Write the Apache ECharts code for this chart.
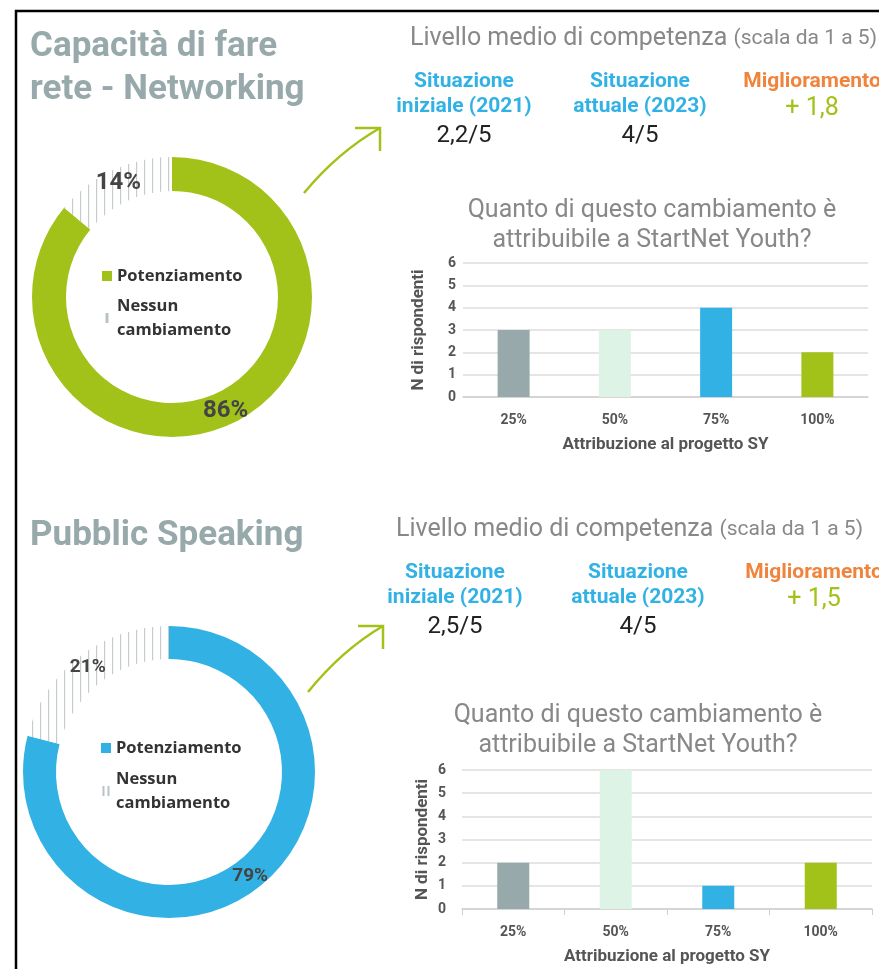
<!DOCTYPE html>
<html>
<head>
<meta charset="utf-8">
<script src="https://cdn.jsdelivr.net/npm/echarts@6/dist/echarts.min.js"></script>
<style>
html,body{margin:0;padding:0;background:#fff;}
#chart{width:879px;height:969px;}
</style>
</head>
<body>
<div id="chart"></div>
<script>
// ---- data ----
const shareNames = ['Potenziamento', 'Nessun cambiamento'];
const networkingShare = [86, 14];
const speakingShare = [79, 21];
const attribCategories = ['25%', '50%', '75%', '100%'];
const networkingAttrib = [3, 3, 4, 2];
const speakingAttrib = [2, 6, 1, 2];
const yTicks = [0, 1, 2, 3, 4, 5, 6];
const networkingLevels = ['2,2/5', '4/5', '+ 1,8'];
const speakingLevels = ['2,5/5', '4/5', '+ 1,5'];
const sectionTitles = [['Capacità di fare', 'rete - Networking'], ['Pubblic Speaking']];

// ---- styles ----
const FONT = 'Roboto';
const barColors = ['#97a9ab', '#dcf3e6', '#32b2e4', '#a2c21a'];
const green = '#a2c21a', blue = '#32b2e4', orange = '#f0843c';
const titleGray = '#97a9ab', textGray = '#888888';

function hatch() {
  const c = document.createElement('canvas');
  c.width = 8; c.height = 8;
  const g = c.getContext('2d');
  g.fillStyle = '#ffffff'; g.fillRect(0, 0, 8, 8);
  g.fillStyle = '#c6cccd'; g.fillRect(0, 0, 1.2, 8);
  return c;
}
const hatchPattern = { image: hatch(), repeat: 'repeat' };

function pieSeries(values, center, radius, mainColor, labelSize) {
  return {
    type: 'pie', center: center, radius: radius, startAngle: 90, clockwise: true,
    silent: true, avoidLabelOverlap: false,
    label: { show: true, position: 'inside', formatter: '{d}%', fontFamily: FONT,
      fontWeight: 'bold', fontSize: labelSize, color: '#444' },
    labelLine: { show: false },
    data: values.map((v, i) => ({
      name: shareNames[i], value: v,
      itemStyle: i === 0 ? { color: mainColor } : { color: hatchPattern }
    }))
  };
}

function legend(left, top, mainColor, iconPath, gap) {
  return {
    orient: 'vertical', left: left, top: top, itemWidth: 10, itemHeight: 10, itemGap: gap,
    selectedMode: false,
    formatter: n => n.replace(' ', '\n'),
    textStyle: { fontFamily: 'Open Sans', fontWeight: 'bold', fontSize: 16.5, color: '#333', lineHeight: 24 },
    data: [
      { name: shareNames[0], icon: 'rect', itemStyle: { color: mainColor } },
      { name: shareNames[1], icon: iconPath, itemStyle: { color: '#b7c3c5' } }
    ]
  };
}

function barAxes(gridIndex, showTicks, yLabelMargin, yNameGap) {
  return {
    x: {
      type: 'category', gridIndex: gridIndex, data: attribCategories,
      axisLine: { lineStyle: { color: '#cfcfcf', width: 1.5 } },
      axisTick: { show: showTicks, length: 6, lineStyle: { color: '#cfcfcf' } },
      axisLabel: { fontFamily: FONT, fontWeight: 'bold', fontSize: 14, color: '#555', margin: 16 },
      name: 'Attribuzione al progetto SY', nameLocation: 'middle', nameGap: 39,
      nameTextStyle: { fontFamily: FONT, fontWeight: 'bold', fontSize: 17, color: '#555' }
    },
    y: {
      type: 'value', gridIndex: gridIndex, min: yTicks[0], max: yTicks[yTicks.length - 1], interval: 1,
      axisLine: { show: false }, axisTick: { show: false },
      splitLine: { lineStyle: { color: '#dddddd', width: 1.5 } },
      axisLabel: { fontFamily: FONT, fontWeight: 'bold', fontSize: 14, color: '#555', margin: yLabelMargin },
      name: 'N di rispondenti', nameLocation: 'middle', nameRotate: 90, nameGap: yNameGap,
      nameTextStyle: { fontFamily: FONT, fontWeight: 'bold', fontSize: 17, color: '#555' }
    }
  };
}

function barSeries(values, idx) {
  return {
    type: 'bar', xAxisIndex: idx, yAxisIndex: idx, barWidth: 32, silent: true,
    data: values.map((v, i) => ({ value: v, itemStyle: { color: barColors[i] } }))
  };
}

function txt(x, y, text, size, color, weight, align) {
  return {
    type: 'text', x: x, y: y,
    style: { text: text, fontFamily: FONT, fontSize: size, fill: color,
      fontWeight: weight || 'normal', textAlign: align || 'left', textVerticalAlign: 'middle' }
  };
}

function levelBlock(y0, xs, vals, livX) {
  return [
    { type: 'text', x: livX, y: y0, style: { text: '{a|Livello medio di competenza }{b|(scala da 1 a 5)}',
      textVerticalAlign: 'middle', rich: {
        a: { fontFamily: FONT, fontSize: 25, fill: textGray, color: textGray },
        b: { fontFamily: FONT, fontSize: 21, fill: textGray, color: textGray } } } },
    txt(xs[0], y0 + 43, 'Situazione', 21, blue, 'bold', 'center'),
    txt(xs[0], y0 + 68, 'iniziale (2021)', 21, blue, 'bold', 'center'),
    txt(xs[0], y0 + 97, vals[0], 24, '#222', 'normal', 'center'),
    txt(xs[1], y0 + 43, 'Situazione', 21, blue, 'bold', 'center'),
    txt(xs[1], y0 + 68, 'attuale (2023)', 21, blue, 'bold', 'center'),
    txt(xs[1], y0 + 97, vals[1], 24, '#222', 'normal', 'center'),
    txt(xs[2], y0 + 43, 'Miglioramento', 21, orange, 'bold', 'center'),
    txt(xs[2], y0 + 70, vals[2], 25, green, 'normal', 'center')
  ];
}

function arrow(tail, cp, tip) {
  return [
    { type: 'bezierCurve', shape: { x1: tail[0], y1: tail[1], cpx1: cp[0], cpy1: cp[1], x2: tip[0], y2: tip[1] },
      style: { stroke: green, lineWidth: 2.5, fill: null } },
    { type: 'polyline', shape: { points: [[tip[0] - 25, tip[1]], [tip[0], tip[1]], [tip[0], tip[1] + 23]] },
      style: { stroke: green, lineWidth: 2.5, fill: null } }
  ];
}

const a1 = barAxes(0, false, 7, 36);
const a2 = barAxes(1, true, 16, 31);

const graphics = [
  { type: 'rect', shape: { x: 16, y: 11, width: 1000, height: 1100 }, style: { stroke: '#000', lineWidth: 2.5, fill: null } },
  txt(30, 47, sectionTitles[0][0], 35, titleGray, 'bold', 'left'),
  txt(30, 90, sectionTitles[0][1], 35, titleGray, 'bold', 'left'),
  txt(30, 536, sectionTitles[1][0], 35, titleGray, 'bold', 'left'),
  ...levelBlock(39, [464, 640, 812], networkingLevels, 410),
  ...levelBlock(530, [455, 638, 814], speakingLevels, 396),
  txt(652, 211, 'Quanto di questo cambiamento è', 25, textGray, 'normal', 'center'),
  txt(652, 241, 'attribuibile a StartNet Youth?', 25, textGray, 'normal', 'center'),
  txt(638, 716, 'Quanto di questo cambiamento è', 25, textGray, 'normal', 'center'),
  txt(638, 746, 'attribuibile a StartNet Youth?', 25, textGray, 'normal', 'center'),
  ...arrow([304, 193], [338, 152], [380, 128]),
  ...arrow([308, 692], [342, 650], [383, 626])
];

const option = {
  animation: false,
  backgroundColor: '#ffffff',
  grid: [
    { left: 463, right: 11, top: 263, bottom: 969 - 397 },
    { left: 462, right: 7, top: 770, bottom: 969 - 909 }
  ],
  xAxis: [a1.x, a2.x],
  yAxis: [a1.y, a2.y],
  legend: [
    legend(97, 259, green, 'path://M0,0h3v10h-3z', 6),
    legend(96, 731, blue, 'path://M0,0h2v10h-2z M5,0h2v10h-2z', 7)
  ],
  series: [
    pieSeries(networkingShare, [172, 297], [106, 140], green, 24),
    pieSeries(speakingShare, [169, 772], [113, 146], blue, 19),
    barSeries(networkingAttrib, 0),
    barSeries(speakingAttrib, 1)
  ],
  graphic: graphics
};

const chart = echarts.init(document.getElementById('chart'), null, { renderer: 'canvas' });
chart.setOption(option);
</script>
</body>
</html>
